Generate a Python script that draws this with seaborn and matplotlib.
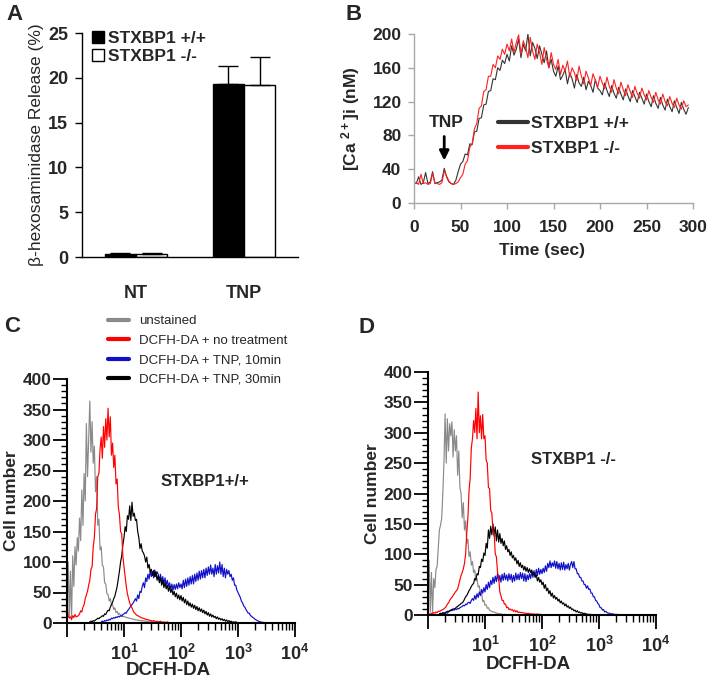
import numpy as np
import pandas as pd
import matplotlib
matplotlib.use("Agg")
import matplotlib.pyplot as plt
import seaborn as sns
from matplotlib.ticker import MultipleLocator, FixedLocator, FixedFormatter, NullFormatter

sns.set_theme(style="ticks")
plt.rcParams["font.family"] = ["Liberation Sans", "DejaVu Sans"]
plt.rcParams["mathtext.fontset"] = "custom"
plt.rcParams["mathtext.rm"] = "Liberation Sans:bold"
plt.rcParams["mathtext.it"] = "Liberation Sans:bold"
plt.rcParams["mathtext.bf"] = "Liberation Sans:bold"

# ---- A: beta-hexosaminidase release ----
conditions = ["NT", "TNP"]
genotypes = ["STXBP1 +/+", "STXBP1 -/-"]
release_wt = [0.35, 19.3]
release_ko = [0.35, 19.2]
err_wt = [0.1, 2.0]
err_ko = [0.08, 3.1]

# ---- B: calcium trace (sampled every 2.5 s) ----
time_s = np.arange(0, 295.1, 2.5)
ca_wt = [24, 23, 31, 22, 24, 36, 23, 25, 37, 23, 24, 25, 27,
         41, 31, 25, 23, 22, 27, 37, 46,
         49, 58, 57, 70, 69, 84, 85, 100, 101, 116, 117, 132, 133, 147, 146, 160, 157, 169, 165, 176,
         168, 186, 175, 182, 194, 172, 188, 180, 200, 174, 190, 183, 171, 186, 176, 166, 180, 160, 170, 156,
         150, 162, 146, 151, 158, 141, 154, 147, 136, 152, 142, 138, 149, 134, 144, 139, 131, 146, 136, 133,
         128, 142, 133, 126, 139, 130, 124, 137, 129, 122, 135, 127, 120, 133, 126, 119, 131, 124, 117, 129,
         120, 114, 127, 118, 112, 125, 116, 110, 123, 114, 108, 121, 113, 106, 119, 111, 105, 113]
ca_ko = [23, 24, 22, 34, 23, 24, 22, 23, 35, 24, 23, 22, 24,
         38, 32, 26, 23, 22, 23, 25, 30,
         34, 46, 50, 66, 70, 88, 94, 112, 115, 132, 134, 150, 150, 164, 160, 174, 170, 182, 176, 188,
         180, 194, 178, 190, 199, 176, 192, 184, 172, 196, 180, 170, 188, 178, 164, 184, 170, 160, 178, 164,
         158, 170, 152, 163, 156, 168, 149, 160, 154, 145, 162, 150, 141, 156, 148, 139, 153, 145, 137, 150,
         142, 135, 149, 138, 131, 146, 136, 129, 143, 134, 127, 140, 132, 125, 138, 130, 124, 136, 128, 122,
         133, 125, 119, 131, 122, 117, 129, 120, 115, 126, 118, 113, 124, 116, 111, 121, 114, 116]

# ---- C / D: flow histograms, channels every 0.02 decade ----
log_step = 0.02
legend_c = ["unstained", "DCFH-DA + no treatment", "DCFH-DA + TNP, 10min", "DCFH-DA + TNP, 30min"]
colors_c = ["#8a8a8a", "#ff0000", "#1010c8", "#000000"]

gray_c_start = 0.0
gray_c = [20, 100, 10, 85, 5, 110, 60, 125, 95, 140,
          118, 172, 135, 218, 160, 245, 200, 327, 240, 300,
          364, 280, 330, 262, 290, 215, 240, 160, 170, 120,
          125, 95, 92, 66, 64, 48, 47, 36, 40, 30,
          30, 22, 25, 17, 19, 14, 16, 12, 13, 10,
          11, 10, 9, 9, 8, 8, 7, 7, 6, 6,
          5, 5, 5, 4, 4, 4, 3, 4, 3, 3,
          3, 2, 2, 2, 2, 1, 2, 1, 1, 1]
red_c_start = 0.0
red_c = [30, 12, 8, 10, 6, 12, 9, 14, 10, 11,
         12, 15, 20, 18, 26, 30, 40, 46, 52, 62,
         70, 88, 92, 125, 140, 178, 188, 240, 245, 285,
         305, 270, 322, 288, 335, 300, 352, 305, 338, 275,
         295, 255, 275, 228, 236, 190, 178, 150, 146, 110,
         92, 76, 60, 48, 40, 33, 28, 25, 20, 17,
         15, 13, 12, 11, 10, 9, 8, 8, 7, 6,
         6, 5, 5, 4, 4, 3, 4, 3, 2, 3,
         2, 2, 3, 2, 1, 2, 1, 1, 2, 1]
blue_c_start = 0.6
blue_c = [2, 3, 2, 4, 3, 5, 4, 6, 5, 8,
          7, 9, 8, 10, 9, 11, 10, 12, 11, 14,
          15, 17, 16, 20, 22, 25, 28, 30, 33, 36,
          40, 36, 46, 40, 52, 50, 60, 66, 58, 74,
          68, 80, 72, 86, 76, 84, 74, 87, 76, 84,
          80, 70, 80, 68, 76, 64, 74, 62, 70, 60,
          66, 56, 64, 54, 63, 55, 64, 56, 66, 58,
          64, 56, 70, 58, 72, 60, 74, 62, 76, 64,
          78, 64, 80, 68, 82, 70, 85, 72, 86, 74,
          88, 74, 90, 78, 92, 80, 95, 80, 90, 76,
          96, 80, 94, 82, 100, 80, 96, 76, 90, 74,
          88, 80, 86, 76, 80, 70, 74, 62, 62, 54,
          50, 46, 42, 36, 33, 28, 26, 22, 19, 16,
          16, 12, 11, 9, 8, 6, 5, 4, 3, 2,
          2, 1, 1, 1, 0]
black_c_start = 0.4
black_c = [2, 3, 2, 4, 3, 5, 6, 8, 7, 9,
           10, 12, 11, 15, 14, 18, 21, 20, 26, 30,
           34, 40, 44, 52, 60, 72, 85, 100, 110, 128,
           140, 158, 150, 176, 170, 192, 168, 198, 175, 180,
           168, 170, 150, 140, 122, 130, 118, 115, 110, 100,
           108, 90, 96, 84, 88, 78, 86, 76, 84, 70,
           78, 66, 74, 62, 70, 58, 66, 56, 62, 52,
           60, 50, 56, 46, 52, 43, 49, 40, 46, 38,
           45, 36, 42, 33, 39, 30, 36, 28, 33, 26,
           31, 24, 29, 22, 27, 20, 25, 19, 23, 17,
           21, 15, 19, 13, 17, 11, 15, 10, 13, 9,
           11, 7, 10, 6, 8, 5, 7, 4, 6, 3,
           5, 2, 4, 2, 3, 1, 2, 1, 2, 1]

gray_d_start = 0.0
gray_d = [10, 90, 5, 70, 3, 60, 45, 75, 80, 110,
          140, 148, 159, 200, 252, 331, 250, 323, 270, 315,
          295, 318, 260, 305, 270, 295, 230, 270, 210, 200,
          160, 185, 140, 155, 118, 125, 96, 104, 82, 88,
          70, 74, 56, 60, 46, 48, 34, 36, 22, 24,
          16, 17, 11, 12, 8, 7, 6, 5, 5, 4,
          3, 3, 2, 2, 2, 1, 1, 1, 1, 0]
red_d_start = 0.0
red_d = [3, 2, 1, 3, 2, 4, 3, 5, 4, 6,
         6, 7, 8, 9, 10, 12, 14, 18, 20, 24,
         27, 29, 32, 35, 38, 40, 43, 50, 58, 65,
         70, 76, 85, 100, 135, 160, 205, 225, 275, 290,
         320, 300, 340, 290, 367, 300, 328, 290, 330, 290,
         295, 255, 250, 210, 208, 172, 168, 138, 136, 100,
         96, 70, 62, 38, 32, 24, 24, 18, 18, 12,
         13, 9, 10, 8, 9, 6, 8, 5, 7, 4,
         5, 4, 4, 4, 3, 3, 3, 2, 3, 2,
         2, 2, 1, 2, 1, 1, 2, 1, 1, 1]
blue_d_start = 0.2
blue_d = [1, 2, 1, 2, 3, 2, 4, 3, 5, 6,
          8, 7, 9, 8, 10, 9, 11, 10, 12, 13,
          14, 16, 15, 18, 17, 20, 21, 19, 24, 27,
          24, 32, 26, 35, 29, 38, 32, 42, 36, 45,
          38, 50, 42, 54, 45, 57, 50, 62, 52, 64,
          55, 68, 56, 65, 54, 67, 57, 69, 58, 66,
          56, 68, 58, 67, 54, 65, 56, 69, 58, 67,
          58, 70, 60, 69, 56, 68, 55, 66, 58, 68,
          60, 71, 62, 73, 63, 75, 65, 77, 67, 75,
          68, 77, 70, 81, 72, 85, 78, 89, 78, 86,
          80, 89, 77, 88, 76, 85, 74, 86, 75, 87,
          74, 83, 76, 85, 74, 83, 88, 78, 88, 76,
          76, 68, 68, 62, 62, 56, 56, 50, 50, 44,
          48, 42, 43, 36, 36, 30, 30, 24, 23, 19,
          17, 12, 12, 8, 9, 5, 6, 4, 3, 3,
          2, 2, 2, 1, 1, 1, 1, 0]
black_d_start = 0.2
black_d = [2, 3, 2, 4, 3, 4, 5, 6, 6, 7,
           8, 9, 10, 10, 11, 13, 14, 16, 17, 19,
           20, 22, 26, 30, 32, 36, 40, 43, 47, 50,
           52, 60, 58, 68, 66, 80, 78, 92, 88, 102,
           98, 118, 110, 140, 126, 146, 132, 150, 130, 145,
           122, 140, 120, 134, 118, 126, 114, 122, 108, 114,
           104, 108, 98, 104, 94, 98, 90, 94, 84, 90,
           80, 86, 78, 82, 74, 80, 72, 78, 70, 76,
           70, 74, 66, 70, 62, 66, 56, 62, 54, 58,
           50, 54, 44, 50, 40, 44, 35, 40, 31, 36,
           28, 32, 26, 29, 23, 26, 20, 23, 18, 20,
           15, 18, 13, 15, 11, 13, 9, 10, 7, 8,
           5, 7, 4, 5, 3, 4, 2, 3, 2, 2,
           1, 1, 1, 1, 0]

W, H = 710, 680
fig = plt.figure(figsize=(W / 100, H / 100), dpi=100)


def px_axes(x0, y_top, x1, y_bot):
    return fig.add_axes([x0 / W, 1 - y_bot / H, (x1 - x0) / W, (y_bot - y_top) / H])


def bold_ticks(ax):
    for lbl in ax.get_xticklabels() + ax.get_yticklabels():
        lbl.set_fontweight("bold")


# ================= A =================
axA = px_axes(82, 33, 298, 257)
df_a = pd.DataFrame({
    "condition": conditions * 2,
    "genotype": [genotypes[0]] * 2 + [genotypes[1]] * 2,
    "release": release_wt + release_ko,
})
sns.barplot(data=df_a, x="condition", y="release", hue="genotype",
            palette=["black", "white"], edgecolor="black", linewidth=1,
            width=0.58, errorbar=None, ax=axA)
for cont, errs in zip(axA.containers, [err_wt, err_ko]):
    for bar, e in zip(cont, errs):
        xc = bar.get_x() + bar.get_width() / 2
        axA.errorbar(xc, bar.get_height(), yerr=[[0], [e]], fmt="none",
                     ecolor="black", elinewidth=1, capsize=7, capthick=1)
axA.set_xlim(-0.5, 1.5)
axA.set_ylim(0, 25)
axA.yaxis.set_major_locator(MultipleLocator(5))
sns.despine(ax=axA)
for s in ["left", "bottom"]:
    axA.spines[s].set_color("black")
    axA.spines[s].set_linewidth(1)
axA.tick_params(axis="y", length=5, width=1, color="black", labelsize=13, pad=5)
axA.tick_params(axis="x", length=0, labelsize=13, pad=20)
axA.set_xlabel("")
axA.set_ylabel("β-hexosaminidase Release (%)", fontsize=12.5)
axA.yaxis.set_label_coords(-0.175, 0.5)
bold_ticks(axA)
h, l = axA.get_legend_handles_labels()
axA.legend(h, l, loc="upper left", bbox_to_anchor=(92 / W, 1 - 31 / H),
           bbox_transform=fig.transFigure, frameon=False, handlelength=0.7,
           handleheight=0.7, handletextpad=0.25, labelspacing=0.15,
           borderpad=0, borderaxespad=0, prop={"size": 12.5, "weight": "bold"})

# ================= B =================
axB = px_axes(414, 34, 693, 203)
sns.lineplot(x=time_s, y=ca_wt, color="#333333", lw=0.8, ax=axB, label="STXBP1 +/+")
sns.lineplot(x=time_s, y=ca_ko, color="#ff2020", lw=0.8, ax=axB, label="STXBP1 -/-")
axB.set_xlim(0, 300)
axB.set_ylim(0, 200)
axB.xaxis.set_major_locator(MultipleLocator(50))
axB.yaxis.set_major_locator(MultipleLocator(40))
sns.despine(ax=axB)
for s in ["left", "bottom"]:
    axB.spines[s].set_color("#a8a8a8")
    axB.spines[s].set_linewidth(1)
axB.tick_params(length=4, width=1, color="#a8a8a8", labelsize=12.5)
axB.tick_params(axis="x", pad=8)
axB.tick_params(axis="y", pad=5)
axB.set_xlabel("Time (sec)", fontsize=12.5, fontweight="bold")
axB.xaxis.set_label_coords(0.459, -0.235)
axB.set_ylabel(r"[Ca $^{2+}$]i (nM)", fontsize=12.5, fontweight="bold")
axB.yaxis.set_label_coords(-0.185, 0.5)
bold_ticks(axB)
legB = axB.legend(loc="upper left", bbox_to_anchor=(498 / W, 1 - 116 / H),
                  bbox_transform=fig.transFigure, frameon=False, handlelength=1.7,
                  handletextpad=0.2, labelspacing=0.55, borderpad=0, borderaxespad=0,
                  prop={"size": 12.5, "weight": "bold"})
for ln in legB.get_lines():
    ln.set_linewidth(3)
axB.annotate("", xy=(32.5, 47), xytext=(32.5, 82),
             arrowprops=dict(arrowstyle="-|>", lw=2, color="black", mutation_scale=14))
axB.text(35, 95, "TNP", ha="center", va="center", fontsize=12.5, fontweight="bold")


# ================= C & D =================
def flow_panel(ax, curves, title, title_xy, label_x, label_y):
    for start, vals, color in curves:
        x = 10 ** (start + log_step * np.arange(len(vals)))
        sns.lineplot(x=x, y=vals, color=color, lw=0.85, ax=ax)
    ax.set_xscale("log")
    ax.set_xlim(1, 1e4)
    ax.set_ylim(0, 400)
    sns.despine(ax=ax)
    for s in ["left", "bottom"]:
        ax.spines[s].set_color("black")
        ax.spines[s].set_linewidth(1.5)
    ax.yaxis.set_major_locator(MultipleLocator(50))
    ax.yaxis.set_minor_locator(MultipleLocator(10))
    ax.xaxis.set_major_locator(FixedLocator([1, 10, 100, 1000, 10000]))
    ax.xaxis.set_major_formatter(FixedFormatter(["", r"$10^{1}$", r"$10^{2}$", r"$10^{3}$", r"$10^{4}$"]))
    minors = [m * 10 ** k for k in range(4) for m in range(2, 10)]
    ax.xaxis.set_minor_locator(FixedLocator(minors))
    ax.xaxis.set_minor_formatter(NullFormatter())
    ax.tick_params(axis="y", which="major", length=10, width=1.3, color="black", labelsize=12.5, pad=1)
    ax.tick_params(axis="y", which="minor", length=4, width=1, color="black")
    ax.tick_params(axis="x", which="major", length=10, width=1.3, color="black", labelsize=13, pad=5)
    ax.tick_params(axis="x", which="minor", length=5, width=1, color="black")
    ax.set_xlabel("DCFH-DA", fontsize=13.5, fontweight="bold")
    ax.xaxis.set_label_coords(label_x, label_y)
    ax.set_ylabel("Cell number", fontsize=12.5, fontweight="bold")
    ax.yaxis.set_label_coords(-0.21, 0.5)
    bold_ticks(ax)
    ax.text(title_xy[0], title_xy[1], title, transform=ax.transAxes, ha="center",
            va="center", fontsize=12, fontweight="bold")


axC = px_axes(67, 379, 295, 623)
flow_panel(axC, [(gray_c_start, gray_c, colors_c[0]), (blue_c_start, blue_c, colors_c[2]),
                 (black_c_start, black_c, colors_c[3]), (red_c_start, red_c, colors_c[1])],
           "STXBP1+/+", ((205 - 67) / 228, (623 - 482) / 244), 0.443, -0.16)
handles = [plt.Line2D([], [], color=c, lw=3) for c in colors_c]
axC.legend(handles, legend_c, loc="upper left", bbox_to_anchor=(108 / W, 1 - 315 / H),
           bbox_transform=fig.transFigure, frameon=False, handlelength=1.6,
           handletextpad=0.75, labelspacing=0.55, borderpad=0, borderaxespad=0,
           prop={"size": 9.5})

axD = px_axes(428, 372, 656, 615)
flow_panel(axD, [(gray_d_start, gray_d, colors_c[0]), (blue_d_start, blue_d, colors_c[2]),
                 (black_d_start, black_d, colors_c[3]), (red_d_start, red_d, colors_c[1])],
           "STXBP1 -/-", ((573 - 428) / 228, (615 - 460) / 243), 0.44, -0.168)

# panel letters
for letter, x, y in [("A", 14, 15), ("B", 354, 15), ("C", 12, 326), ("D", 366, 327)]:
    fig.text(x / W, 1 - y / H, letter, ha="center", va="center", fontsize=16, fontweight="bold")

fig.savefig("out.png", dpi=100)
